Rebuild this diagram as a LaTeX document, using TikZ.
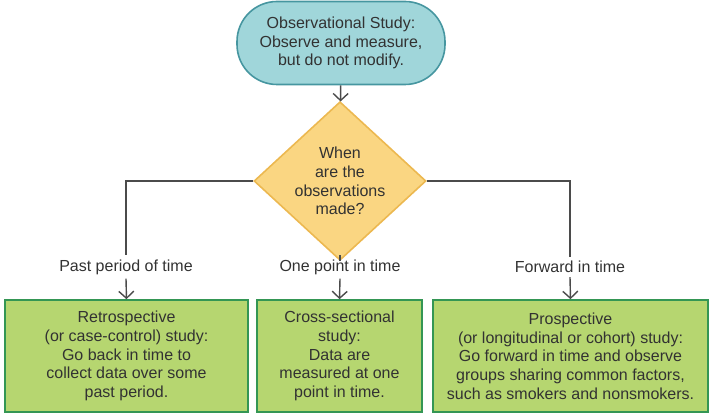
\documentclass[tikz,border=0pt]{standalone}
\usepackage{fontspec}
\setmainfont{Liberation Sans}
\usetikzlibrary{shapes.geometric,arrows.meta}
\definecolor{tealfill}{RGB}{160,214,218}
\definecolor{tealdraw}{RGB}{70,150,160}
\definecolor{yelfill}{RGB}{250,214,130}
\definecolor{yeldraw}{RGB}{236,184,80}
\definecolor{grnfill}{RGB}{182,214,112}
\definecolor{grndraw}{RGB}{52,150,84}
\definecolor{txt}{RGB}{50,50,50}
\definecolor{lin}{RGB}{75,75,75}
\tikzset{
  every node/.style={font=\fontsize{16}{18.7}\selectfont, text=txt, align=center},
  startbox/.style={draw=tealdraw, fill=tealfill, line width=1.6pt, rounded corners=40pt, minimum width=208pt, minimum height=83pt, inner sep=0pt},
  decide/.style={diamond, draw=yeldraw, fill=yelfill, line width=1.6pt, minimum width=172pt, minimum height=118pt, inner sep=0pt},
  studybox/.style={draw=grndraw, fill=grnfill, line width=1.6pt, minimum height=112pt, inner sep=0pt},
  tlabel/.style={inner sep=4pt},
  conn/.style={draw=lin, line width=1.4pt},
  arr/.style={conn, -{Straight Barb[length=7pt,width=15pt,line width=1.4pt]}}
}
\begin{document}
\begin{tikzpicture}[x=1pt,y=1pt]
\useasboundingbox (0,0) rectangle (716,420);
\node[startbox] (top) at (341,377) {Observational Study:\\Observe and measure,\\but do not modify.};
\node[decide] (dia) at (340,239) {When\\are the\\observations\\made?};
\node[tlabel] (l1) at (126,153) {Past period of time};
\node[tlabel] (l2) at (340,153) {One point in time};
\node[tlabel] (l3) at (570,153) {Forward in time};
\node[studybox, minimum width=243pt] (b1) at (126.5,64) {Retrospective\\(or case-control) study:\\Go back in time to\\collect data over some\\past period.};
\node[studybox, minimum width=165pt] (b2) at (339.5,64) {Cross-sectional\\study:\\Data are\\measured at one\\point in time.};
\node[studybox, minimum width=275pt] (b3) at (570.5,64) {Prospective\\(or longitudinal or cohort) study:\\Go forward in time and observe\\groups sharing common factors,\\such as smokers and nonsmokers.};
\draw[arr] (top) -- (dia);
\draw[conn] (dia.west) -| (l1.north);
\draw[conn] (dia.south) -- (l2.north);
\draw[conn] (dia.east) -| (l3.north);
\draw[arr] (l1.south) -- (b1.north);
\draw[arr] (l2.south) -- (b2.north);
\draw[arr] (l3.south) -- (b3.north);
\end{tikzpicture}
\end{document}
